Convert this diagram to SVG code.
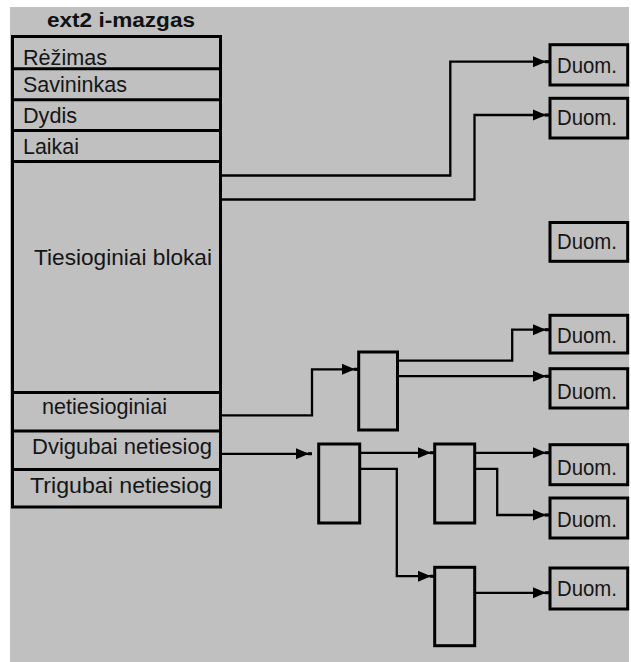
<svg xmlns="http://www.w3.org/2000/svg" width="631" height="662" viewBox="0 0 631 662">
  <style>
    .box { fill: none; stroke: #000; stroke-width: 3; }
    .sep { stroke: #000; stroke-width: 3; }
    .wire { fill: none; stroke: #000; stroke-width: 2.3; stroke-linejoin: miter; }
    .lbl { font-family: "Liberation Sans", Arial, sans-serif; font-size: 22px; fill: #151515; }
    .title { font-family: "Liberation Sans", Arial, sans-serif; font-size: 20px; font-weight: bold; fill: #111; }
  </style>
  <defs>
    <marker id="arrow" viewBox="0 0 16 12" refX="16" refY="6" markerWidth="16" markerHeight="12" markerUnits="userSpaceOnUse" orient="auto">
      <path d="M0,0.5 L13,6 L0,11.5 z M12,4.5 H16 V7.5 H12 z" fill="#000"/>
    </marker>
  </defs>

  <!-- canvas -->
  <rect x="10" y="7" width="619" height="655" fill="#c0c0c0"/>

  <!-- inode table -->
  <g id="inode">
    <text class="title" x="47" y="27" textLength="148" lengthAdjust="spacingAndGlyphs">ext2 i-mazgas</text>
    <rect class="box" x="12.5" y="36.5" width="208" height="470.5"/>
    <line class="sep" x1="12.5" y1="68.8" x2="220.5" y2="68.8"/>
    <line class="sep" x1="12.5" y1="99.8" x2="220.5" y2="99.8"/>
    <line class="sep" x1="12.5" y1="130.5" x2="220.5" y2="130.5"/>
    <line class="sep" x1="12.5" y1="161.5" x2="220.5" y2="161.5"/>
    <line class="sep" x1="12.5" y1="392.5" x2="220.5" y2="392.5"/>
    <line class="sep" x1="12.5" y1="431" x2="220.5" y2="431"/>
    <line class="sep" x1="12.5" y1="469.5" x2="220.5" y2="469.5"/>
    <text class="lbl" x="23" y="65" textLength="84" lengthAdjust="spacingAndGlyphs">Rėžimas</text>
    <text class="lbl" x="23" y="92" textLength="104" lengthAdjust="spacingAndGlyphs">Savininkas</text>
    <text class="lbl" x="23" y="123" textLength="54" lengthAdjust="spacingAndGlyphs">Dydis</text>
    <text class="lbl" x="23" y="154" textLength="56" lengthAdjust="spacingAndGlyphs">Laikai</text>
    <text class="lbl" x="34" y="265" textLength="178" lengthAdjust="spacingAndGlyphs">Tiesioginiai blokai</text>
    <text class="lbl" x="42" y="414" textLength="125" lengthAdjust="spacingAndGlyphs">netiesioginiai</text>
    <text class="lbl" x="32" y="454" textLength="180" lengthAdjust="spacingAndGlyphs">Dvigubai netiesiog</text>
    <text class="lbl" x="30" y="493" textLength="182" lengthAdjust="spacingAndGlyphs">Trigubai netiesiog</text>
  </g>

  <!-- indirect blocks -->
  <g id="ind1"><rect class="box" x="358.7" y="352" width="38.8" height="78"/></g>
  <g id="dind1"><rect class="box" x="318.7" y="444" width="41" height="79"/></g>
  <g id="dind2"><rect class="box" x="434.7" y="444" width="40" height="79"/></g>
  <g id="dind3"><rect class="box" x="434.7" y="567.3" width="40" height="78.4"/></g>

  <!-- data blocks -->
  <g id="data1"><rect class="box" x="550" y="44.7" width="77.7" height="40.3"/><text class="lbl" x="557" y="73" textLength="60" lengthAdjust="spacingAndGlyphs">Duom.</text></g>
  <g id="data2"><rect class="box" x="550" y="98.3" width="77.7" height="39.7"/><text class="lbl" x="557" y="125" textLength="60" lengthAdjust="spacingAndGlyphs">Duom.</text></g>
  <g id="data3"><rect class="box" x="550" y="222.5" width="77.7" height="38.8"/><text class="lbl" x="557" y="249" textLength="60" lengthAdjust="spacingAndGlyphs">Duom.</text></g>
  <g id="data4"><rect class="box" x="550" y="315.3" width="77.7" height="37.7"/><text class="lbl" x="557" y="343" textLength="60" lengthAdjust="spacingAndGlyphs">Duom.</text></g>
  <g id="data5"><rect class="box" x="550" y="368.7" width="77.7" height="39.3"/><text class="lbl" x="557" y="399" textLength="60" lengthAdjust="spacingAndGlyphs">Duom.</text></g>
  <g id="data6"><rect class="box" x="550" y="444.7" width="77.7" height="40"/><text class="lbl" x="557" y="475" textLength="60" lengthAdjust="spacingAndGlyphs">Duom.</text></g>
  <g id="data7"><rect class="box" x="550" y="498" width="77.7" height="40"/><text class="lbl" x="557" y="527" textLength="60" lengthAdjust="spacingAndGlyphs">Duom.</text></g>
  <g id="data8"><rect class="box" x="550" y="568" width="77.7" height="41"/><text class="lbl" x="557" y="596" textLength="60" lengthAdjust="spacingAndGlyphs">Duom.</text></g>

  <!-- connectors -->
  <g id="connectors">
    <path class="wire" d="M221,175.5 H450.3 V61.7 H549" marker-end="url(#arrow)"/>
    <path class="wire" d="M221,199.5 H474.5 V115 H549" marker-end="url(#arrow)"/>
    <path class="wire" d="M221,415.3 H312 V369.3 H358" marker-end="url(#arrow)"/>
    <path class="wire" d="M398,360.7 H512.2 V329.7 H549" marker-end="url(#arrow)"/>
    <path class="wire" d="M398,376.2 H549" marker-end="url(#arrow)"/>
    <path class="wire" d="M221,453.8 H312" marker-end="url(#arrow)"/>
    <path class="wire" d="M360,452.8 H434" marker-end="url(#arrow)"/>
    <path class="wire" d="M360,468.8 H396.8 V576.2 H434" marker-end="url(#arrow)"/>
    <path class="wire" d="M475,452.8 H549" marker-end="url(#arrow)"/>
    <path class="wire" d="M475,468.8 H497.2 V515 H549" marker-end="url(#arrow)"/>
    <path class="wire" d="M475,592.8 H549" marker-end="url(#arrow)"/>
  </g>
</svg>
